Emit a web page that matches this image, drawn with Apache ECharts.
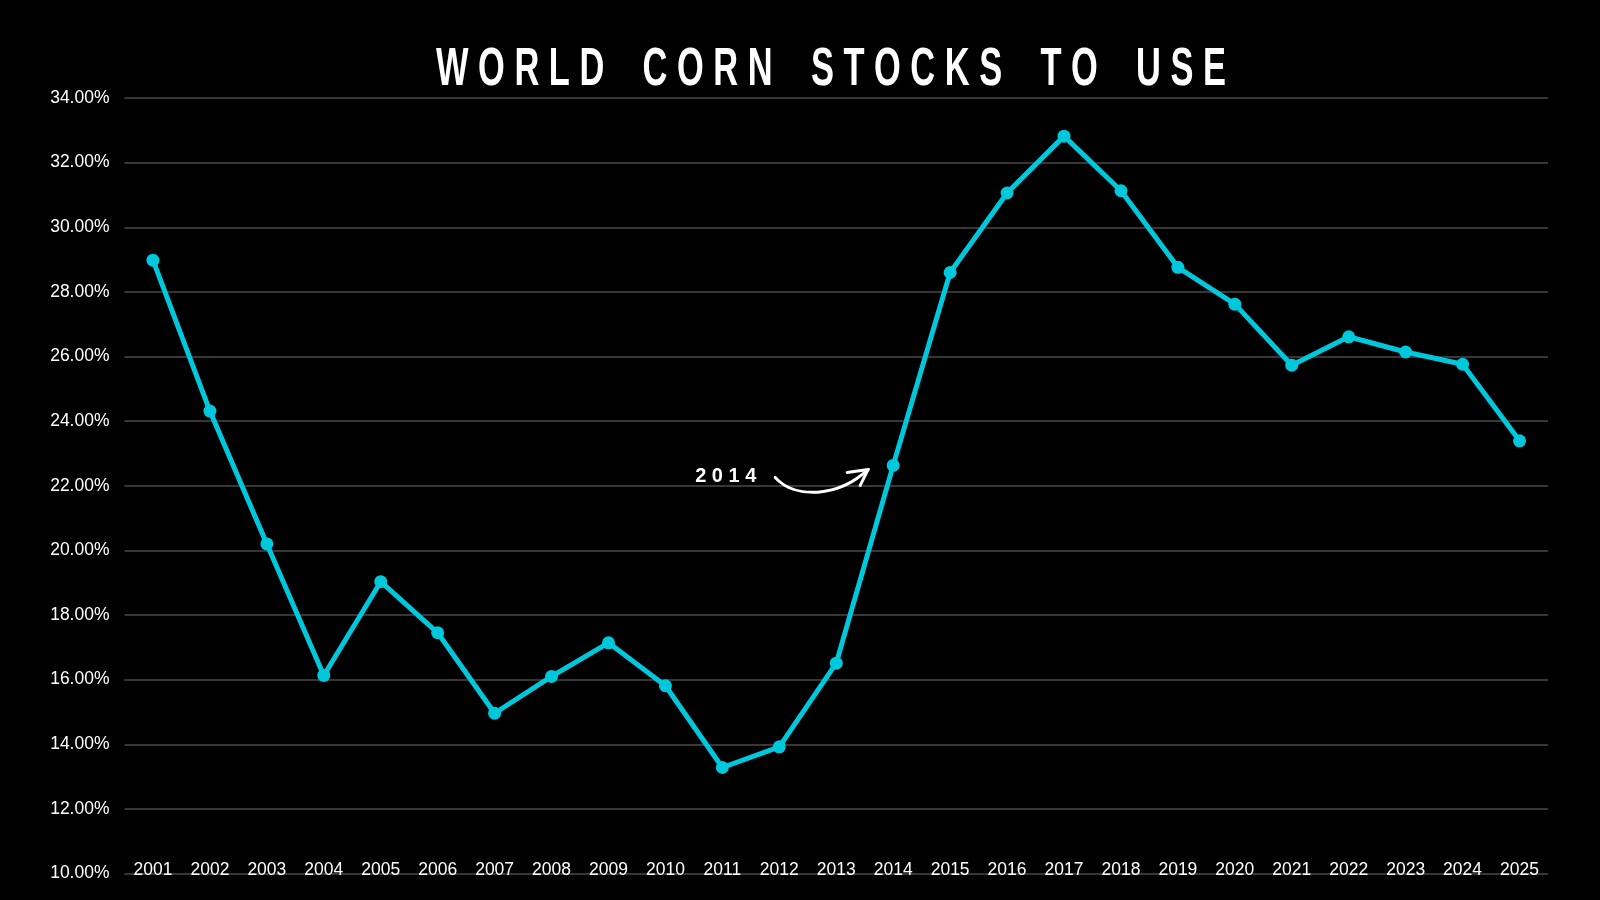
<!DOCTYPE html>
<html>
<head>
<meta charset="utf-8">
<script src="https://cdn.jsdelivr.net/npm/echarts@6/dist/echarts.min.js"></script>
<style>
html,body{margin:0;padding:0;background:#000;}
#main{width:1600px;height:900px;}
</style>
</head>
<body>
<div id="main"></div>
<script>
const years = ['2001','2002','2003','2004','2005','2006','2007','2008','2009','2010','2011','2012','2013','2014','2015','2016','2017','2018','2019','2020','2021','2022','2023','2024','2025'];
const stocksToUse = [28.98,24.31,20.20,16.13,19.03,17.45,14.96,16.10,17.14,15.81,13.28,13.92,16.51,22.63,28.60,31.06,32.82,31.13,28.76,27.62,25.73,26.61,26.14,25.76,23.39];
const yTicks = {min:10, max:34, interval:2};
const titleText = 'WORLD CORN STOCKS TO USE';
const annotationYear = '2014';

const titleFont = 'bold 54px "Liberation Sans", Arial, sans-serif';
const spaced = titleText.split(' ').map(w => w.split('').join(' ')).join('    ');
const ctx = document.createElement('canvas').getContext('2d');
ctx.font = titleFont;
const titleW = ctx.measureText(spaced).width;
const titleScale = 790 / titleW;

const chart = echarts.init(document.getElementById('main'));
chart.setOption({
  backgroundColor:'#000',
  animation:false,
  grid:{left:124.5, right:52, top:98, bottom:26.5},
  xAxis:{
    type:'category', data:years, boundaryGap:true,
    axisLine:{show:false}, axisTick:{show:false},
    axisLabel:{inside:true, margin:-6, color:'#fff', fontSize:17.5, fontFamily:'Liberation Sans, Arial, sans-serif'},
    splitLine:{show:false}
  },
  yAxis:{
    type:'value', min:yTicks.min, max:yTicks.max, interval:yTicks.interval,
    axisLine:{show:false}, axisTick:{show:false},
    axisLabel:{margin:15, color:'#fff', fontSize:17.5, fontFamily:'Liberation Sans, Arial, sans-serif', formatter:v=>v.toFixed(2)+'%'},
    splitLine:{lineStyle:{color:'#4a4a4a', width:1.5}}
  },
  series:[{
    type:'line', data:stocksToUse,
    symbol:'circle', symbolSize:13,
    lineStyle:{color:'#00C8DC', width:5},
    itemStyle:{color:'#00C8DC'}
  }]
});

const idx = years.indexOf(annotationYear);
const p = chart.convertToPixel({seriesIndex:0}, [idx, stocksToUse[idx]]);
const px = p[0], py = p[1];
chart.setOption({
  graphic:[
    {type:'text', x:831, y:70, scaleX:titleScale, scaleY:1,
     style:{text:spaced, fill:'#fff', font:titleFont, align:'center', verticalAlign:'middle'}},
    {type:'text', left: px-166-32, top: py+10-9,
     style:{text:'2 0 1 4', fill:'#fff', font:'bold 20px Liberation Sans, Arial, sans-serif'}},
    {type:'bezierCurve', shape:{x1:px-118,y1:py+12,cpx1:px-98,cpy1:py+34,cpx2:px-55,cpy2:py+32,x2:px-25,y2:py+4},
     style:{stroke:'#fff', lineWidth:3, fill:null, lineCap:'round'}},
    {type:'polyline', shape:{points:[[px-46,py+7],[px-25,py+4],[px-33,py+20]]},
     style:{stroke:'#fff', lineWidth:3, fill:null, lineCap:'round', lineJoin:'round'}}
  ]
});
</script>
</body>
</html>
